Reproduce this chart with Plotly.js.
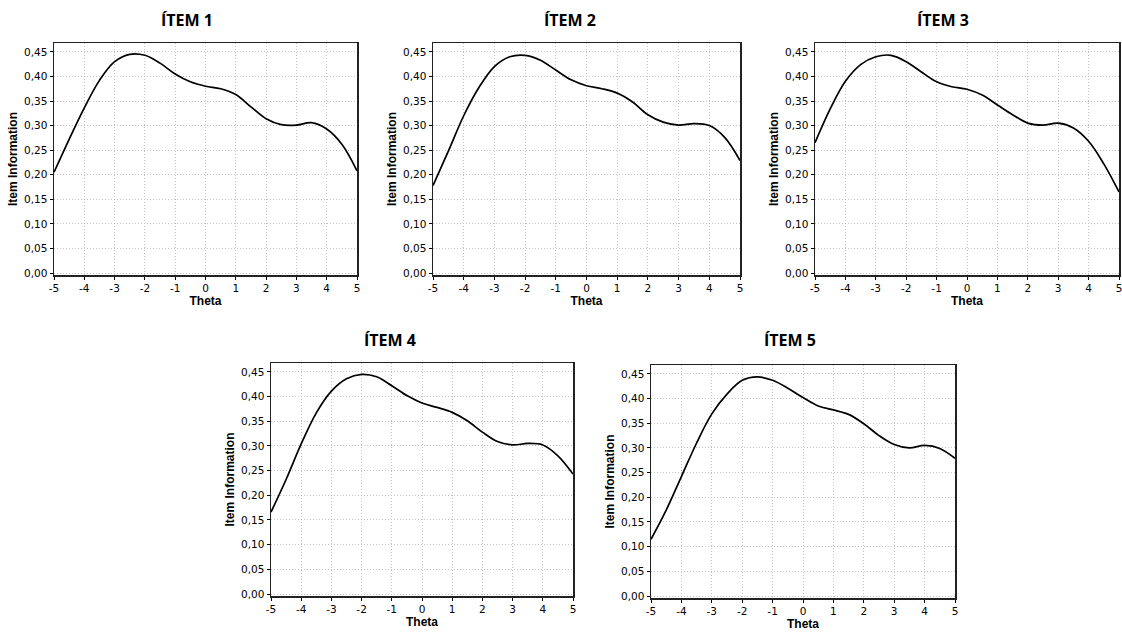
<!DOCTYPE html>
<html>
<head>
<meta charset="utf-8">
<script src="https://cdn.plot.ly/plotly-3.0.1.min.js"></script>
<style>html,body{margin:0;padding:0;background:#fff;}#chart{width:1122px;height:635px;}</style>
</head>
<body>
<div id="chart"></div>
<script>
const theta = [-5,-4.5,-4,-3.5,-3,-2.5,-2,-1.5,-1,-0.5,0,0.5,1,1.5,2,2.5,3,3.5,4,4.5,5];
const item1 = [0.205,0.272,0.336,0.392,0.430,0.445,0.443,0.427,0.405,0.389,0.380,0.375,0.363,0.338,0.314,0.302,0.301,0.306,0.293,0.262,0.208];
const item2 = [0.178,0.248,0.320,0.378,0.420,0.440,0.443,0.433,0.413,0.393,0.381,0.375,0.366,0.348,0.322,0.307,0.301,0.304,0.300,0.276,0.229];
const item3 = [0.265,0.334,0.390,0.424,0.440,0.443,0.430,0.409,0.389,0.379,0.374,0.362,0.342,0.322,0.305,0.301,0.305,0.295,0.268,0.222,0.165];
const item4 = [0.166,0.232,0.304,0.367,0.411,0.436,0.445,0.440,0.422,0.402,0.387,0.378,0.368,0.351,0.328,0.309,0.302,0.305,0.302,0.280,0.243];
const item5 = [0.115,0.174,0.242,0.310,0.369,0.409,0.437,0.444,0.437,0.421,0.402,0.385,0.377,0.368,0.349,0.325,0.307,0.300,0.305,0.299,0.279];
const series = [item1,item2,item3,item4,item5];
const titles = ['ÍTEM 1','ÍTEM 2','ÍTEM 3','ÍTEM 4','ÍTEM 5'];
const xTicks = [-5,-4,-3,-2,-1,0,1,2,3,4,5];
const yTicks = [0,0.05,0.1,0.15,0.2,0.25,0.3,0.35,0.4,0.45];
const yTickText = ['0,00','0,05','0,10','0,15','0,20','0,25','0,30','0,35','0,40','0,45'];
const xTitle = 'Theta';
const yTitle = 'Item Information';

const W = 1122, H = 635;
// pixel boxes [left, top, right, bottom]
const boxes = [[54,43,357,275],[433,43,740,275],[815,43,1119,275],[271,363,573,596],[651,365,955,598]];
const titlePos = [[187,20],[570,20],[943,20],[390,340],[790,340]];

const tickFont = {family:'DejaVu Sans, Verdana, sans-serif', size:10.5, color:'#000'};
const axTitleFont = {family:'Liberation Sans, Arial, sans-serif', size:12, color:'#000', weight:'bold'};

const data = [];
const layout = {
  width: W, height: H, margin:{l:0,r:0,t:0,b:0},
  paper_bgcolor:'#fff', plot_bgcolor:'#fff', showlegend:false,
  annotations: []
};
series.forEach((s,i)=>{
  const n = i+1;
  const sfx = (n===1?'':String(n));
  const b = boxes[i];
  data.push({x: theta, y: s, type:'scatter', mode:'lines', line:{color:'#000', width:1.7, shape:'spline', smoothing:1},
    xaxis:'x'+sfx, yaxis:'y'+sfx, hoverinfo:'skip'});
  layout['xaxis'+sfx] = {domain:[b[0]/W, b[2]/W], range:[-5,5], tickvals:xTicks, ticktext:xTicks.map(String),
    showgrid:true, gridcolor:'#c4c4c4', griddash:'1px,2px', gridwidth:1, zeroline:false,
    showline:true, mirror:true, linecolor:'#222', linewidth:1.5, ticks:'outside', ticklen:3, tickcolor:'#000',
    tickfont:tickFont, anchor:'y'+sfx, ticklabeloverflow:'allow',
    title:{text:xTitle, font:axTitleFont, standoff:2}};
  layout['yaxis'+sfx] = {domain:[1-b[3]/H, 1-b[1]/H], range:[-0.004,0.468], tickvals:yTicks, ticktext:yTickText,
    showgrid:true, gridcolor:'#c4c4c4', griddash:'1px,2px', gridwidth:1, zeroline:false,
    showline:true, mirror:true, linecolor:'#222', linewidth:1.5, ticks:'outside', ticklen:3, tickcolor:'#000',
    tickfont:tickFont, anchor:'x'+sfx, ticklabeloverflow:'allow',
    title:{text:yTitle, font:axTitleFont, standoff:4}};
  layout.annotations.push({text:'<b>'+titles[i]+'</b>', xref:'paper', yref:'paper',
    x:titlePos[i][0]/W, y:1-titlePos[i][1]/H, xanchor:'center', yanchor:'middle', showarrow:false,
    font:{family:'Open Sans, Noto Sans, sans-serif', size:16, color:'#000'}});
});
Plotly.newPlot('chart', data, layout, {displayModeBar:false, staticPlot:true});
</script>
</body>
</html>
